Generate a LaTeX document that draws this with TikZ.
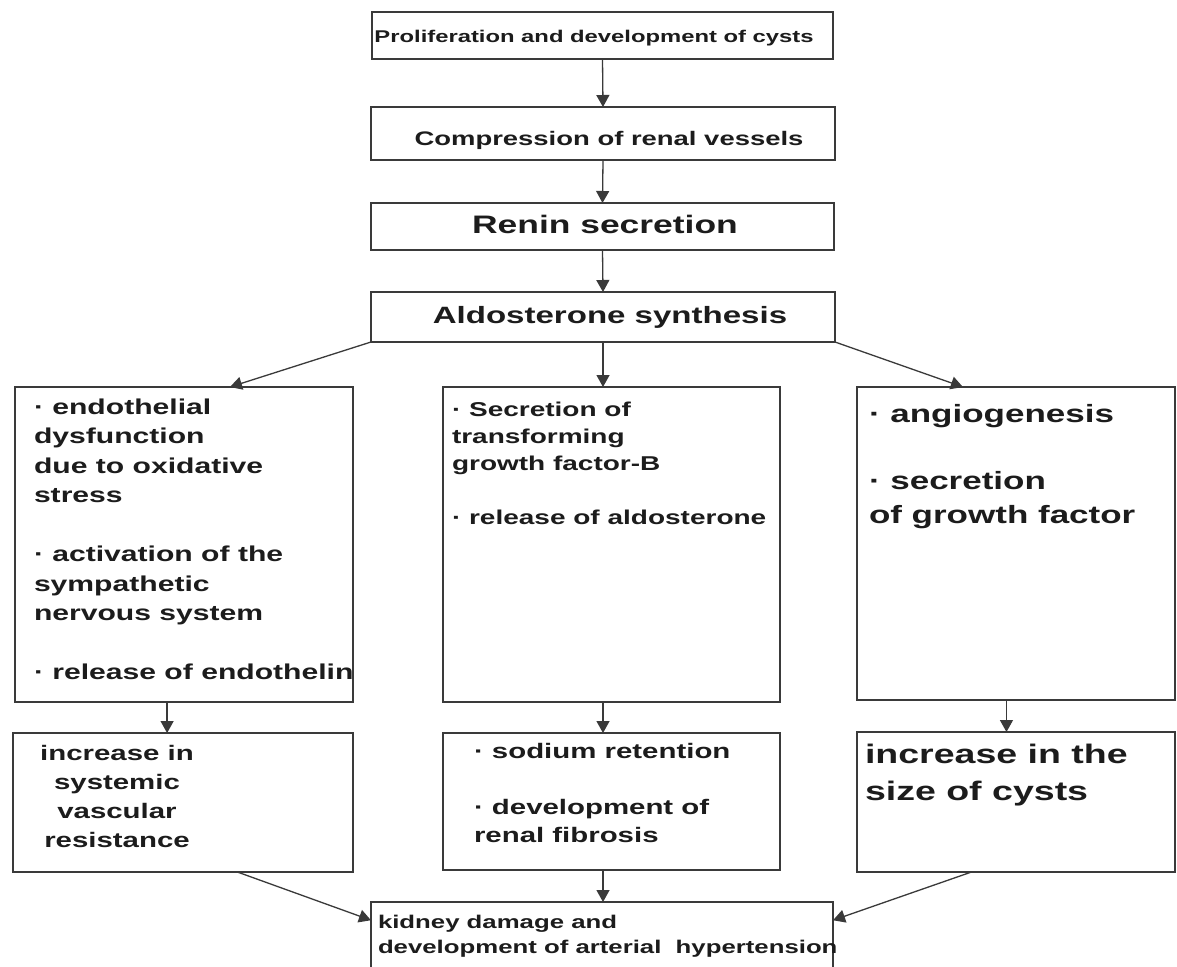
\documentclass[tikz,border=0pt]{standalone}
\usepackage{fontspec}
\setmainfont{Liberation Sans}[FakeStretch=1.4]
\usetikzlibrary{arrows.meta,calc}

\definecolor{ink}{HTML}{1C1C1C}
\definecolor{frame}{HTML}{3A3A3A}

\tikzset{
  box/.style={draw=frame, line width=1.6pt, inner sep=0pt, outer sep=0pt, rectangle},
  link/.style={draw=frame, line width=1.3pt, -{Triangle[width=13pt,length=12pt]}},
  txt/.style={inner sep=0pt, outer sep=0pt, text=ink},
}
% font size / line spacing in one go
\newcommand\fsz[2]{\bfseries\fontsize{#1}{#2}\selectfont}
% fixes the height of a first line so the top anchor is predictable
\newcommand\firstline{\rule{0pt}{0.75em}}

\begin{document}
\begin{tikzpicture}[x=1pt,y=-1pt]
\clip (0,0) rectangle (1177,966);
\fill[white] (0,0) rectangle (1177,966);

% ---- central chain ----
\node[box, minimum width=461, minimum height=47] (b1) at (602.5,35.5) {};
\node[box, minimum width=464, minimum height=53] (b2) at (603,133.5) {};
\node[box, minimum width=463, minimum height=47] (b3) at (602.5,226.5) {};
\node[box, minimum width=464, minimum height=50] (b4) at (603,317) {};

\node[txt, anchor=base, font=\fsz{17}{20}] (t1) at (594,42) {Proliferation and development of cysts};
\node[txt, anchor=base, font=\fsz{19.6}{23}] (t2) at (609,145) {Compression of renal vessels};
\node[txt, anchor=base, font=\fsz{25.3}{30}] (t3) at (605,233) {Renin secretion};
\node[txt, anchor=base, font=\fsz{23.6}{28}] (t4) at (610,323) {Aldosterone synthesis};

% ---- effects row ----
\node[box, minimum width=338, minimum height=315] (l1) at (184,544.5) {};
\node[box, minimum width=337, minimum height=315] (m1) at (611.5,544.5) {};
\node[box, minimum width=318, minimum height=313] (r1) at (1016,543.5) {};

\node[txt, anchor=north west, align=left, font=\fsz{21.5}{29.5}] (tl1) at (34,398)
  {\firstline· endothelial\\dysfunction\\due to oxidative\\stress\\[29.5pt]
   · activation of the\\sympathetic\\nervous system\\[29.5pt]
   · release of endothelin};
\node[txt, anchor=north west, align=left, font=\fsz{20}{27}] (tm1) at (452,401)
  {\firstline· Secretion of\\transforming\\growth factor-B\\[27pt]
   · release of aldosterone};
\node[txt, anchor=north west, align=left, font=\fsz{25}{33.5}] (tr1) at (869,404)
  {\firstline· angiogenesis\\[33.5pt]
   · secretion\\of growth factor};

% ---- outcomes row ----
\node[box, minimum width=340, minimum height=139] (l2) at (183,802.5) {};
\node[box, minimum width=337, minimum height=137] (m2) at (611.5,801.5) {};
\node[box, minimum width=318, minimum height=140] (r2) at (1016,802) {};

\node[txt, anchor=north, align=center, font=\fsz{21}{29}] (tl2) at (117,745)
  {\firstline increase in\\systemic\\vascular\\resistance};
\node[txt, anchor=north west, align=left, font=\fsz{21}{28}] (tm2) at (474,743)
  {\firstline· sodium retention\\[28pt]
   · development of\\renal fibrosis};
\node[txt, anchor=north west, align=left, font=\fsz{26.8}{37}] (tr2) at (865,743)
  {\firstline increase in the\\size of cysts};

% ---- final outcome ----
\node[box, minimum width=462, minimum height=73] (k) at (602,938.5) {};
\node[txt, anchor=north west, align=left, font=\fsz{18.4}{25}] (tk) at (378,915)
  {\firstline kidney damage and\\development of arterial~ hypertension};

% ---- connectors ----
\coordinate (spine) at (b4.south);
\draw[link] (b1.south) -- (b2.north);
\draw[link] (b2.south) -- (b3.north);
\draw[link] (b3.south) -- (b4.north);
\draw[link] (spine) -- (spine |- m1.north);
\draw[link] (spine |- m1.south) -- (spine |- m2.north);
\draw[link] (spine |- m2.south) -- (spine |- k.north);

\draw[link] (b4.south west) -- ($(l1.north west)!0.636!(l1.north east)$);
\draw[link] (b4.south east) -- ($(r1.north west)!0.333!(r1.north east)$);

\coordinate (lfoot) at ($(l1.south west)!0.45!(l1.south east)$);
\draw[link] (lfoot) -- (lfoot |- l2.north);
\coordinate (rfoot) at ($(r1.south west)!0.47!(r1.south east)$);
\draw[link] (rfoot) -- (rfoot |- r2.north);

\draw[link] ($(l2.south west)!0.66!(l2.south east)$) -- ($(k.north west)!0.25!(k.south west)$);
\draw[link] ($(r2.south west)!0.36!(r2.south east)$) -- ($(k.north east)!0.25!(k.south east)$);
\end{tikzpicture}
\end{document}
